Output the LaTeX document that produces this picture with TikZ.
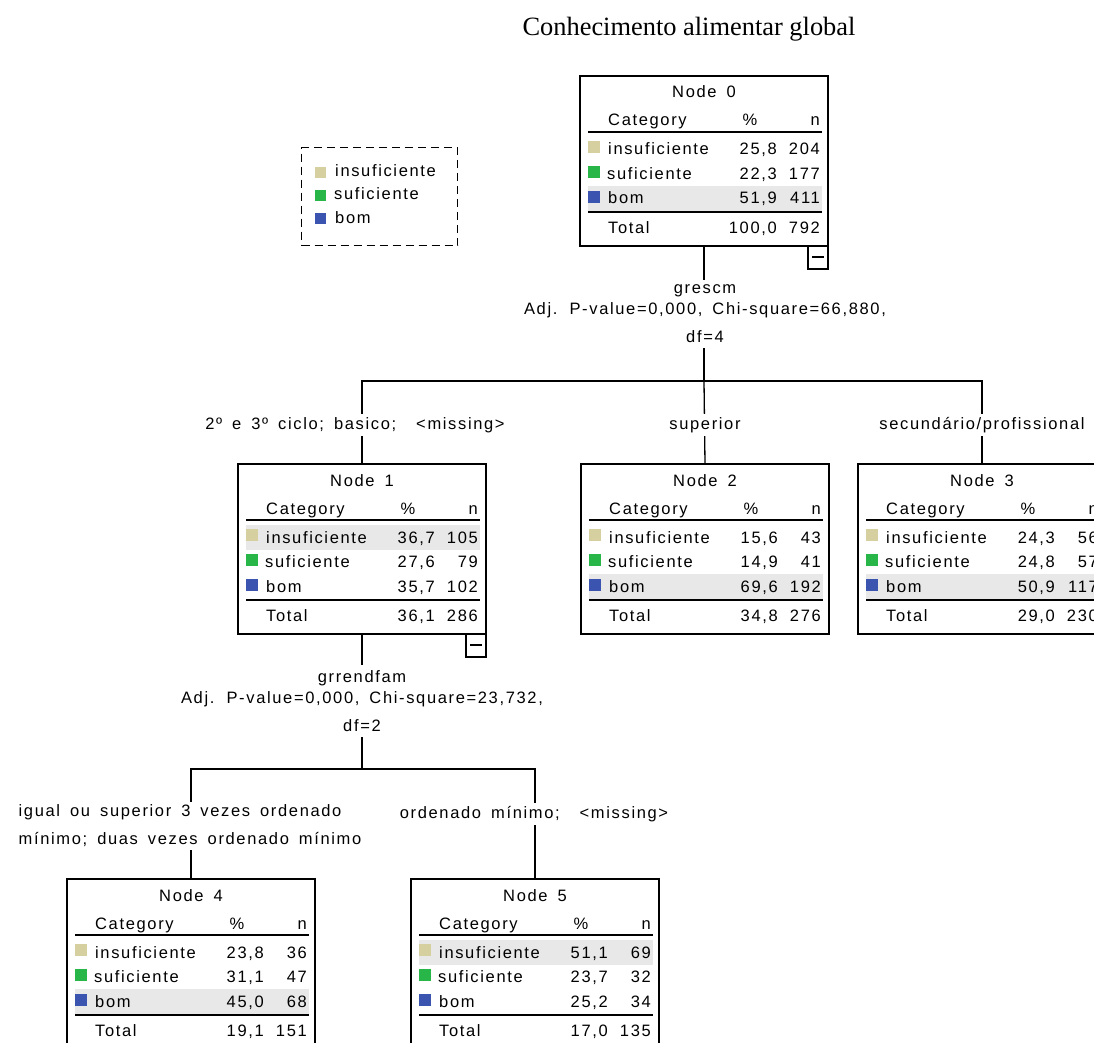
\documentclass[tikz,border=0pt]{standalone}
\usepackage{fontspec}
\usetikzlibrary{calc}
\newfontfamily\treefont[LetterSpace=10]{Liberation Sans}
\newfontfamily\headfont{Liberation Serif}
\newcommand\treetext{\treefont\fontsize{16.5}{21}\selectfont\spaceskip=10pt\relax}
\definecolor{cinsuf}{RGB}{214,208,160}
\definecolor{csuf}{RGB}{40,182,72}
\definecolor{cbom}{RGB}{58,84,176}
\definecolor{hlgray}{RGB}{232,232,232}

\tikzset{
  x=1pt, y=-1pt,
  treebox/.style={draw, line width=1.3pt, minimum width=248pt, minimum height=170pt,
    inner sep=0pt, outer sep=0pt, anchor=north west},
  txt/.style={font=\treetext, inner sep=0pt},
  conn/.style={line width=1.3pt},
  rule/.style={line width=1.2pt},
  elabel/.style={txt, fill=white, inner sep=3pt},
  legendbox/.style={draw, line width=1.3pt, dash pattern=on 8pt off 5pt,
    minimum width=156pt, minimum height=98pt, inner sep=0pt, anchor=north west},
}

% tree node frame: name, top-left corner, title, offset of the shaded row
\newcommand\treenode[4]{%
  \node[treebox] (#1) at (#2) {};
  \fill[hlgray] ($(#1.north west)+(8,#4)$) rectangle ++(234,25);
  \node[txt, anchor=base] at ($(#1.north)+(0,22)$) {#3};
  \node[txt, anchor=base west] at ($(#1.north west)+(28,50)$) {Category};
  \node[txt, anchor=base] at ($(#1.north west)+(170,50)$) {\%};
  \node[txt, anchor=base east] at ($(#1.north west)+(240,50)$) {n};
  \draw[rule] ($(#1.north west)+(8,56)$) -- ++(234,0);
  \fill[cinsuf] ($(#1.north west)+(8,65)$) rectangle ++(12,12);
  \fill[csuf] ($(#1.north west)+(8,90)$) rectangle ++(12,12);
  \fill[cbom] ($(#1.north west)+(8,115)$) rectangle ++(12,12);
  \node[txt, anchor=base west] at ($(#1.north west)+(28,79)$) {insuficiente};
  \node[txt, anchor=base west] at ($(#1.north west)+(27,103)$) {suficiente};
  \node[txt, anchor=base west] at ($(#1.north west)+(28,128)$) {bom};
  \draw[line width=2.2pt] ($(#1.north west)+(8,136)$) -- ++(234,0);
  \node[txt, anchor=base west] at ($(#1.north west)+(28,157)$) {Total};
}

% percentages and counts: name, then % and n of each row and of the total
\newcommand\treevals[9]{%
  \node[txt, anchor=base east] at ($(#1.north west)+(197,79)$) {#2};
  \node[txt, anchor=base east] at ($(#1.north west)+(240,79)$) {#3};
  \node[txt, anchor=base east] at ($(#1.north west)+(197,103)$) {#4};
  \node[txt, anchor=base east] at ($(#1.north west)+(240,103)$) {#5};
  \node[txt, anchor=base east] at ($(#1.north west)+(197,128)$) {#6};
  \node[txt, anchor=base east] at ($(#1.north west)+(240,128)$) {#7};
  \node[txt, anchor=base east] at ($(#1.north west)+(197,157)$) {#8};
  \node[txt, anchor=base east] at ($(#1.north west)+(240,157)$) {#9};
}

% collapse marker under an expanded node
\newcommand\minusmark[1]{%
  \draw[rule] (#1.south east) rectangle ++(-20,23);
  \draw[rule] ($(#1.south east)+(-16,11)$) -- ++(12,0);
}

\begin{document}
\begin{tikzpicture}
\useasboundingbox (0,0) rectangle (1094,1043);
\clip (0,0) rectangle (1094,1043);
\fill[white] (0,0) rectangle (1094,1043);

\node[font=\headfont\fontsize{26.4}{30}\selectfont, inner sep=0pt] (title) at (689,29)
  {Conhecimento alimentar global};

% legend
\node[legendbox] (legend) at (301,147) {};
\fill[cinsuf] ($(legend.north west)+(14,20)$) rectangle ++(11,11);
\fill[csuf] ($(legend.north west)+(14,43)$) rectangle ++(11,11);
\fill[cbom] ($(legend.north west)+(14,66)$) rectangle ++(11,11);
\node[txt, anchor=base west] (leg1) at ($(legend.north west)+(34,30)$) {insuficiente};
\node[txt, anchor=base west] (leg2) at ($(legend.north west)+(33,53)$) {suficiente};
\node[txt, anchor=base west] (leg3) at ($(legend.north west)+(34,76)$) {bom};

% tree nodes
\treenode{n0}{580,76}{Node 0}{110}
\treevals{n0}{25,8}{204}{22,3}{177}{51,9}{411}{100,0}{792}
\minusmark{n0}

\treenode{n1}{238,464}{Node 1}{61}
\treevals{n1}{36,7}{105}{27,6}{79}{35,7}{102}{36,1}{286}
\minusmark{n1}

\treenode{n2}{581,464}{Node 2}{110}
\treevals{n2}{15,6}{43}{14,9}{41}{69,6}{192}{34,8}{276}

\treenode{n3}{858,464}{Node 3}{110}
\treevals{n3}{24,3}{56}{24,8}{57}{50,9}{117}{29,0}{230}

\treenode{n4}{67,879}{Node 4}{110}
\treevals{n4}{23,8}{36}{31,1}{47}{45,0}{68}{19,1}{151}

\treenode{n5}{411,879}{Node 5}{61}
\treevals{n5}{51,1}{69}{23,7}{32}{25,2}{34}{17,0}{135}

% first split
\path (n0.south) ++(0,135) coordinate (bar0);
\draw[conn] (n0.south) -- (bar0);
\draw[conn] (n1.north) |- (bar0) -| (n3.north);
\draw[conn] (bar0) -- (n2.north);
\node[txt, fill=white, inner xsep=3pt, inner ysep=5pt, align=center] (s0) at (705,314)
  {grescm\\Adj. P-value=0,000, Chi-square=66,880,\\[7pt]df=4};
\node[elabel] (e1) at (355,425) {2º e 3º ciclo; basico;~ <missing>};
\node[elabel] (e2) at (705,425) {superior};
\node[elabel] (e3) at (982,425) {secundário/profissional};

% second split
\path (n1.south) ++(0,135) coordinate (bar1);
\draw[conn] (n1.south) -- (bar1);
\draw[conn] (n4.north) |- (bar1) -| (n5.north);
\node[txt, fill=white, inner xsep=3pt, inner ysep=5pt, align=center] (s1) at (362,701)
  {grrendfam\\Adj. P-value=0,000, Chi-square=23,732,\\[7pt]df=2};
\node[elabel, align=left] (e4) at (190,826)
  {igual ou superior 3 vezes ordenado\\[7pt]mínimo; duas vezes ordenado mínimo};
\node[elabel] (e5) at (534,814) {ordenado mínimo;~ <missing>};
\end{tikzpicture}
\end{document}
